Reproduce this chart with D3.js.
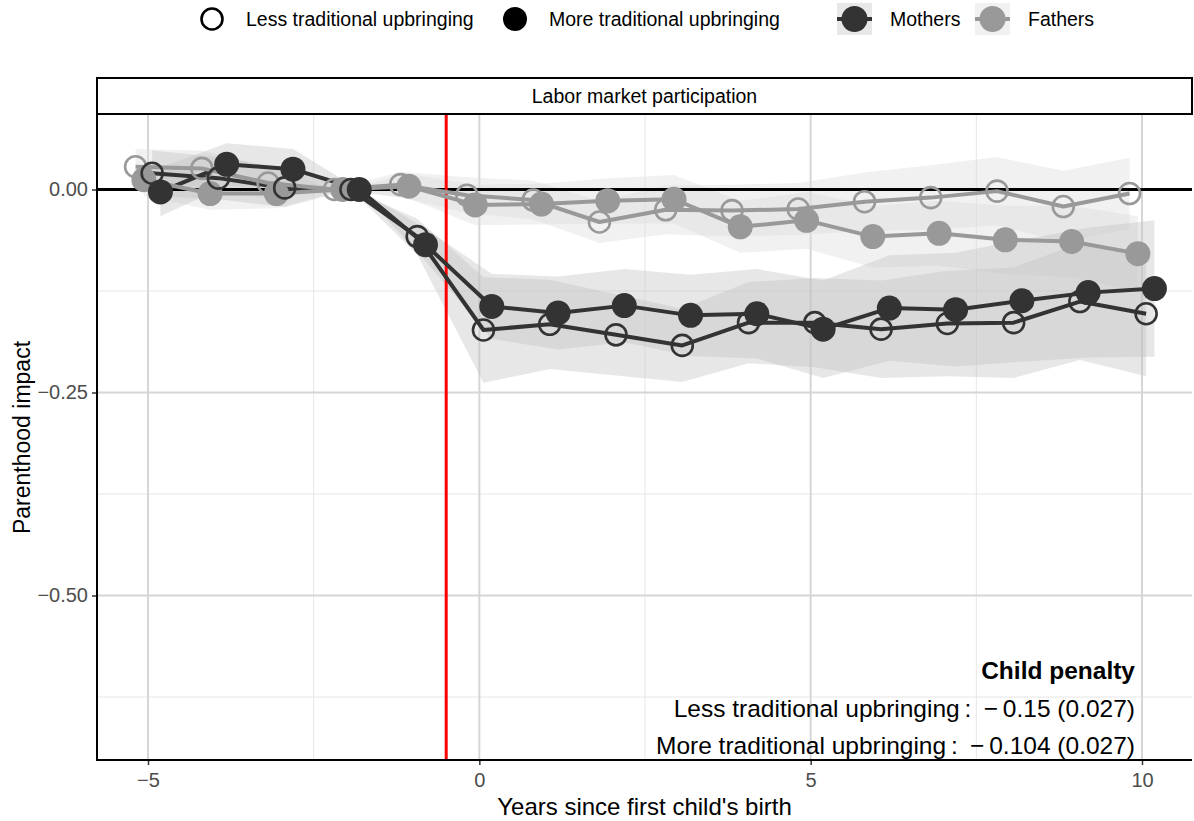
<!DOCTYPE html>
<html>
<head>
<meta charset="utf-8">
<script src="https://cdn.jsdelivr.net/npm/d3@7"></script>
<style>
  body { margin: 0; background: #fff; }
  text { font-family: "Liberation Sans", Arial, sans-serif; }
</style>
</head>
<body>
<div id="chart"></div>
<script>
// event time (years since first child's birth)
var years = [-5, -4, -3, -2, -1, 0, 1, 2, 3, 4, 5, 6, 7, 8, 9, 10];

// point estimates
var mothersMore = [-0.003, 0.031, 0.025, 0, -0.068, -0.144, -0.152, -0.143, -0.155, -0.153, -0.172, -0.146, -0.148, -0.137, -0.127, -0.122];
var mothersLess = [0.020, 0.014, 0.002, 0, -0.058, -0.173, -0.166, -0.179, -0.192, -0.164, -0.164, -0.172, -0.165, -0.164, -0.138, -0.153];
var fathersMore = [0.012, -0.005, -0.005, 0, 0.004, -0.019, -0.018, -0.014, -0.012, -0.046, -0.038, -0.058, -0.054, -0.062, -0.064, -0.079];
var fathersLess = [0.028, 0.026, 0.008, 0, 0.006, -0.007, -0.013, -0.040, -0.025, -0.026, -0.024, -0.015, -0.010, -0.002, -0.021, -0.005];

// half widths of the confidence bands
var ciMothersMore = [0.030, 0.026, 0.025, 0, 0.020, 0.040, 0.045, 0.045, 0.050, 0.055, 0.060, 0.065, 0.070, 0.075, 0.080, 0.084];
var ciMothersLess = [0.028, 0.026, 0.024, 0, 0.022, 0.065, 0.055, 0.050, 0.045, 0.050, 0.055, 0.060, 0.065, 0.068, 0.072, 0.077];
var ciFathersMore = [0.020, 0.020, 0.018, 0, 0.015, 0.025, 0.025, 0.028, 0.030, 0.032, 0.035, 0.038, 0.040, 0.042, 0.044, 0.046];
var ciFathersLess = [0.022, 0.022, 0.020, 0, 0.016, 0.022, 0.024, 0.026, 0.030, 0.032, 0.032, 0.036, 0.040, 0.042, 0.044, 0.044];

var xTicks = [-5, 0, 5, 10];
var yTicks = [0, -0.25, -0.5];
var xMinor = [-2.5, 2.5, 7.5];
var yMinor = [-0.125, -0.375, -0.625];

var legendShapes = ["Less traditional upbringing", "More traditional upbringing"];
var legendGender = ["Mothers", "Fathers"];
var penaltyLabels = ["Less traditional upbringing", "More traditional upbringing"];
var penaltyValues = ["\u2212\u20090.15 (0.027)", "\u2212\u20090.104 (0.027)"];

var W = 1194, H = 821;
var panel = {left: 97, right: 1192, top: 115, bottom: 760};

var x = d3.scaleLinear().domain([-5, 10]).range([148, 1142]);
var y = d3.scaleLinear().domain([-0.5, 0]).range([595.5, 189.5]);

var dark = "#333333", light = "#999999";

var groups = [
  {vals: fathersLess, ci: ciFathersLess, color: light, hollow: true, dodge: -0.1875, band: "#dcdcdc"},
  {vals: fathersMore, ci: ciFathersMore, color: light, hollow: false, dodge: -0.0625, band: "#dcdcdc"},
  {vals: mothersLess, ci: ciMothersLess, color: dark, hollow: true, dodge: 0.0625, band: "#c4c4c4"},
  {vals: mothersMore, ci: ciMothersMore, color: dark, hollow: false, dodge: 0.1875, band: "#c4c4c4"}
];
groups.forEach(function(g) {
  g.data = years.map(function(t, i) {
    return {t: t + g.dodge, v: g.vals[i], lo: g.vals[i] - g.ci[i], hi: g.vals[i] + g.ci[i]};
  });
});

var svg = d3.select("#chart").append("svg")
  .attr("width", W)
  .attr("height", H);

// clip to panel
svg.append("clipPath").attr("id", "clip")
  .append("rect")
  .attr("x", panel.left).attr("y", panel.top)
  .attr("width", panel.right - panel.left).attr("height", panel.bottom - panel.top);

var plot = svg.append("g").attr("clip-path", "url(#clip)");

// grid
plot.selectAll(".ymin").data(yMinor).enter().append("line")
  .attr("x1", panel.left).attr("x2", panel.right)
  .attr("y1", function(d) { return y(d); }).attr("y2", function(d) { return y(d); })
  .attr("stroke", "#e6e6e6").attr("stroke-width", 1);
plot.selectAll(".xmin").data(xMinor).enter().append("line")
  .attr("y1", panel.top).attr("y2", panel.bottom)
  .attr("x1", function(d) { return x(d); }).attr("x2", function(d) { return x(d); })
  .attr("stroke", "#e6e6e6").attr("stroke-width", 1);
plot.selectAll(".ymaj").data(yTicks).enter().append("line")
  .attr("x1", panel.left).attr("x2", panel.right)
  .attr("y1", function(d) { return y(d); }).attr("y2", function(d) { return y(d); })
  .attr("stroke", "#d6d6d6").attr("stroke-width", 2);
plot.selectAll(".xmaj").data(xTicks).enter().append("line")
  .attr("y1", panel.top).attr("y2", panel.bottom)
  .attr("x1", function(d) { return x(d); }).attr("x2", function(d) { return x(d); })
  .attr("stroke", "#d6d6d6").attr("stroke-width", 2);

// confidence bands
var area = d3.area()
  .x(function(d) { return x(d.t); })
  .y0(function(d) { return y(d.lo); })
  .y1(function(d) { return y(d.hi); });
groups.forEach(function(g) {
  plot.append("path").datum(g.data)
    .attr("d", area)
    .attr("fill", g.band)
    .attr("fill-opacity", 0.4);
});

// zero line and event line
plot.append("line")
  .attr("x1", panel.left).attr("x2", panel.right)
  .attr("y1", y(0)).attr("y2", y(0))
  .attr("stroke", "#000").attr("stroke-width", 3);
plot.append("line")
  .attr("x1", x(-0.5)).attr("x2", x(-0.5))
  .attr("y1", panel.top).attr("y2", panel.bottom)
  .attr("stroke", "#ff0000").attr("stroke-width", 3);

// lines
var line = d3.line()
  .x(function(d) { return x(d.t); })
  .y(function(d) { return y(d.v); });
[2, 3, 0, 1].forEach(function(k) {
  var g = groups[k];
  plot.append("path").datum(g.data)
    .attr("d", line)
    .attr("fill", "none")
    .attr("stroke", g.color)
    .attr("stroke-width", 4)
    .attr("stroke-linejoin", "round");
});

// points
groups.forEach(function(g) {
  plot.selectAll(null).data(g.data).enter().append("circle")
    .attr("cx", function(d) { return x(d.t); })
    .attr("cy", function(d) { return y(d.v); })
    .attr("r", g.hollow ? 10.5 : 12.5)
    .attr("fill", g.hollow ? "none" : g.color)
    .attr("stroke", g.hollow ? g.color : "none")
    .attr("stroke-width", 2.6);
});

// axes
var xAxis = svg.append("g")
  .attr("transform", "translate(0," + panel.bottom + ")")
  .call(d3.axisBottom(x).tickValues(xTicks).tickSize(5).tickPadding(8)
    .tickFormat(function(d) { return d < 0 ? "\u2212" + Math.abs(d) : d; }));
var yAxis = svg.append("g")
  .attr("transform", "translate(" + panel.left + ",0)")
  .call(d3.axisLeft(y).tickValues(yTicks).tickSize(5).tickPadding(4)
    .tickFormat(function(d) { return d < 0 ? "\u2212" + d3.format(".2f")(-d) : d3.format(".2f")(d); }));
[xAxis, yAxis].forEach(function(a) {
  a.select(".domain").remove();
  a.selectAll(".tick line").attr("stroke", "#333").attr("stroke-width", 1.5);
  a.selectAll(".tick text").attr("fill", "#4d4d4d").style("font-size", "20px")
    .style("font-family", "'Liberation Sans', Arial, sans-serif");
});
svg.append("line")
  .attr("x1", panel.left).attr("x2", panel.right)
  .attr("y1", panel.bottom).attr("y2", panel.bottom)
  .attr("stroke", "#000").attr("stroke-width", 2);
svg.append("line")
  .attr("x1", panel.left).attr("x2", panel.left)
  .attr("y1", panel.top).attr("y2", panel.bottom + 1)
  .attr("stroke", "#000").attr("stroke-width", 2);

// strip
svg.append("rect")
  .attr("x", panel.left).attr("y", 78)
  .attr("width", panel.right - panel.left).attr("height", 36)
  .attr("fill", "#fff").attr("stroke", "#000").attr("stroke-width", 2);
svg.append("text")
  .attr("x", (panel.left + panel.right) / 2).attr("y", 103)
  .attr("text-anchor", "middle").style("font-size", "19.5px")
  .text("Labor market participation");

// axis titles
svg.append("text")
  .attr("x", (panel.left + panel.right) / 2).attr("y", 815)
  .attr("text-anchor", "middle").style("font-size", "24px")
  .text("Years since first child's birth");
svg.append("text")
  .attr("transform", "translate(30," + (panel.top + panel.bottom) / 2 + ") rotate(-90)")
  .attr("text-anchor", "middle").style("font-size", "23px")
  .text("Parenthood impact");

// child penalty annotation
svg.append("text")
  .attr("x", 1135).attr("y", 679)
  .attr("text-anchor", "end").style("font-size", "24.5px").style("font-weight", "bold")
  .text("Child penalty");
penaltyLabels.forEach(function(lab, i) {
  svg.append("text")
    .attr("x", 1135).attr("y", 717 + i * 37)
    .attr("text-anchor", "end").style("font-size", "24.5px")
    .text(lab + "\u2009:\u2002" + penaltyValues[i]);
});

// legend
var leg = svg.append("g");
var shapeX = [212, 515];
legendShapes.forEach(function(lab, i) {
  leg.append("circle")
    .attr("cx", shapeX[i]).attr("cy", 19)
    .attr("r", i === 0 ? 10.5 : 12)
    .attr("fill", i === 0 ? "none" : "#000")
    .attr("stroke", i === 0 ? "#000" : "none")
    .attr("stroke-width", 2.6);
  leg.append("text")
    .attr("x", shapeX[i] + 34).attr("y", 26)
    .style("font-size", "19.5px")
    .text(lab);
});
var keyX = [837, 975];
var keyCol = [dark, light];
var keyBg = ["#e8e8e8", "#f1f1f1"];
legendGender.forEach(function(lab, i) {
  leg.append("rect")
    .attr("x", keyX[i]).attr("y", 3)
    .attr("width", 35).attr("height", 32)
    .attr("fill", keyBg[i]);
  leg.append("line")
    .attr("x1", keyX[i]).attr("x2", keyX[i] + 35)
    .attr("y1", 19).attr("y2", 19)
    .attr("stroke", keyCol[i]).attr("stroke-width", 4);
  leg.append("circle")
    .attr("cx", keyX[i] + 17.5).attr("cy", 19).attr("r", 13)
    .attr("fill", keyCol[i]);
  leg.append("text")
    .attr("x", keyX[i] + 53).attr("y", 26)
    .style("font-size", "19.5px")
    .text(lab);
});
</script>
</body>
</html>
